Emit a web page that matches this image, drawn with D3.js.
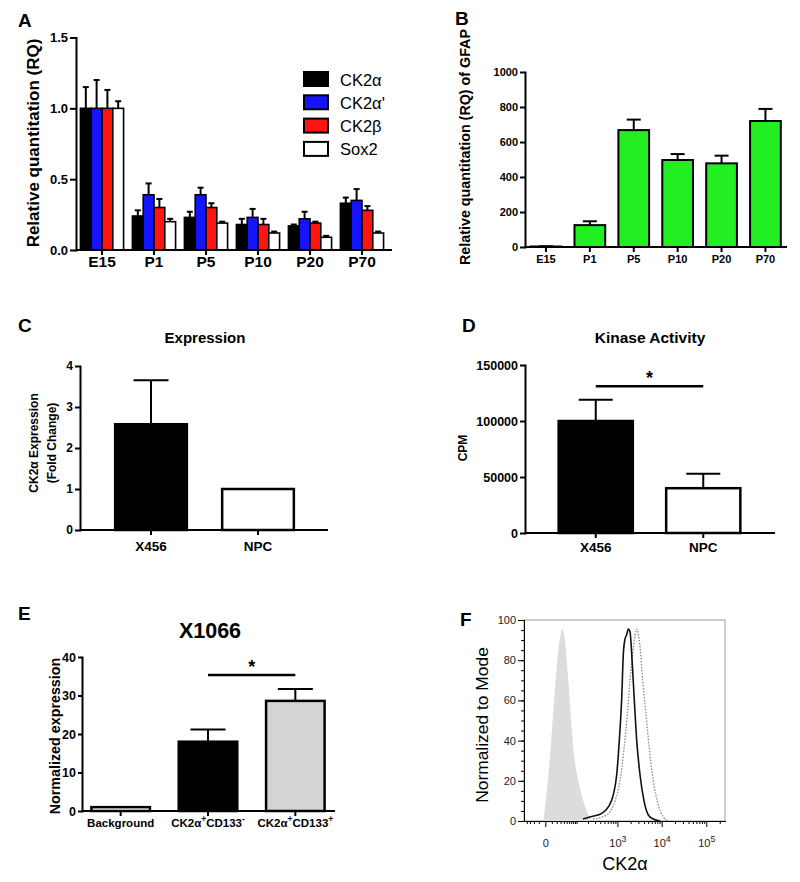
<!DOCTYPE html>
<html><head><meta charset="utf-8">
<script src="https://cdn.jsdelivr.net/npm/d3@7"></script>
<style>
body{margin:0;background:#fff}
svg{display:block}
</style></head><body>
<svg id="fig" width="800" height="882"></svg>
<script>
// ---------- DATA ----------
// Panel A
const stagesA = ["E15","P1","P5","P10","P20","P70"];
const seriesA = ["CK2α","CK2α'","CK2β","Sox2"];
const ck2aVals  = [1.00,0.24,0.23,0.18,0.17,0.33];
const ck2aErr   = [0.15,0.04,0.04,0.04,0.01,0.04];
const ck2apVals = [1.00,0.39,0.39,0.23,0.22,0.35];
const ck2apErr  = [0.20,0.08,0.05,0.06,0.05,0.08];
const ck2bVals  = [1.00,0.30,0.30,0.18,0.19,0.28];
const ck2bErr   = [0.13,0.06,0.03,0.04,0.01,0.03];
const sox2Vals  = [1.00,0.20,0.19,0.12,0.09,0.12];
const sox2Err   = [0.05,0.02,0.01,0.01,0.01,0.01];
const ticksA = [0,0.5,1.0,1.5];
// Panel B
const stagesB = ["E15","P1","P5","P10","P20","P70"];
const gfapVals = [3,125,668,497,478,720];
const gfapErr  = [1,22,60,34,44,69];
const ticksB = [0,200,400,600,800,1000];
// Panel C
const catsC = ["X456","NPC"];
const exprVals = [2.58,1.0];
const exprErr  = [1.07,0];
const ticksC = [0,1,2,3,4];
// Panel D
const catsD = ["X456","NPC"];
const kinVals = [100000,40000];
const kinErr  = [19000,13000];
const ticksD = [0,50000,100000,150000];
const sigD = 131000;
// Panel E
const catsE = ["Background","CK2α+CD133-","CK2α+CD133+"];
const normVals = [1.0,18.0,28.6];
const normErr  = [0,3.2,3.1];
const ticksE = [0,10,20,30,40];
const sigE = 35.3;
// Panel F (flow histograms: intensity, % of mode)
const ctrlX = [-2.7,0.9,5.7,10.9,16.2,23.9,30.2,35,40.5,46.5,56.8,67.5,81,112,152,204,234];
const ctrlY = [0,11,28,48,66,85,93,95.5,93,86,70,53,36,20,10,3,0];
const solidX = [149,248,432,617,805,964,1105,1255,1365,1492,1630,1775,1940,2185,2425,2750,3262,4015,5018,6498,9300];
const solidY = [1,2.2,3.8,7,13,23,40,61,83,90.5,92.7,95.5,94,78,60,40,23,10,3,1,0];
const dotX = [267,566,882,1148,1418,1684,1940,2303,2750,3147,3752,4453,5283,6498,8412,10895,14110];
const dotY = [1,3,10,20,36,53,70,86,95.5,90,70,53,36,20,8,2,0];
const ticksFy = [0,20,40,60,80,100];
const ticksFx = [0,1e3,1e4,1e5];

// ---------- DRAW ----------
const FONT = "'Liberation Sans', Arial, Helvetica, sans-serif";
const svg = d3.select("#fig").attr("font-family", FONT);

function styleAxis(a, fs, weight, sw) {
  a.attr("font-family", FONT);
  a.select(".domain").attr("stroke","#000").attr("stroke-width",sw).attr("stroke-linecap","square");
  a.selectAll(".tick line").attr("stroke","#000").attr("stroke-width",sw);
  a.selectAll(".tick text").attr("font-size",fs).attr("font-weight",weight).attr("fill","#000");
}
function panelLabel(t,x,y){
  svg.append("text").attr("x",x).attr("y",y).attr("font-size",19).attr("font-weight","bold").text(t);
}
function yLabel(g,t,x,y,fs,weight){
  return g.append("text").attr("transform",`translate(${x},${y}) rotate(-90)`).attr("text-anchor","middle")
    .attr("font-size",fs).attr("font-weight",weight||"bold").text(t);
}
function errBar(g,cx,yTop,yErr,cap,sw){
  g.append("line").attr("x1",cx).attr("x2",cx).attr("y1",yTop).attr("y2",yErr).attr("stroke","#000").attr("stroke-width",sw);
  g.append("line").attr("x1",cx-cap/2).attr("x2",cx+cap/2).attr("y1",yErr).attr("y2",yErr).attr("stroke","#000").attr("stroke-width",sw);
}

function barPanel(p){
  const g = svg.append("g");
  const x = d3.scaleBand().domain(p.cats).range(p.xRange).paddingInner(p.pad).paddingOuter(p.pad/2);
  const y = d3.scaleLinear().domain([0,p.yMax]).range(p.yRange);
  p.cats.forEach((c,i)=>{
    const cx = x(c)+x.bandwidth()/2;
    if(p.errs[i]>0) errBar(g,cx,y(p.vals[i]),y(p.vals[i]+p.errs[i]),p.cap,2);
  });
  g.selectAll("rect.bar").data(p.vals).join("rect").attr("class","bar")
    .attr("x",(d,i)=>x(p.cats[i])).attr("y",d=>y(d))
    .attr("width",x.bandwidth()).attr("height",d=>y(0)-y(d))
    .attr("fill",(d,i)=>p.fills[i]).attr("stroke","#000").attr("stroke-width",p.barSW);
  const ay = g.append("g").attr("transform",`translate(${p.axisX},0)`)
    .call(d3.axisLeft(y).tickValues(p.yTicks).tickFormat(p.yFmt||d3.format("d")).tickSize(p.yTick).tickSizeOuter(0).tickPadding(p.yPad));
  styleAxis(ay,p.yFs,"bold",2);
  const ax = g.append("g").attr("transform",`translate(0,${y(0)})`)
    .call(d3.axisBottom(x).tickSize(5).tickSizeOuter(0).tickPadding(p.xPad));
  styleAxis(ax,p.xFs,"bold",2);
  ax.select(".domain").remove();
  g.append("line").attr("x1",p.axisX).attr("x2",p.xEnd).attr("y1",y(0)).attr("y2",y(0))
    .attr("stroke","#000").attr("stroke-width",2);
  return {g,x,y,ax};
}

// ---- Panel A ----
(function(){
  const g = svg.append("g");
  const x = d3.scaleBand().domain(stagesA).range([76,388]).paddingInner(0.17).paddingOuter(0.085);
  const xs = d3.scaleBand().domain(seriesA).range([0,x.bandwidth()]);
  const y = d3.scaleLinear().domain([0,1.5]).range([250,37.5]);
  const colors = ["#000000","#1414ff","#ff1414","#ffffff"];
  const vals = [ck2aVals,ck2apVals,ck2bVals,sox2Vals];
  const errs = [ck2aErr,ck2apErr,ck2bErr,sox2Err];
  seriesA.forEach((s,si)=>{
    stagesA.forEach((st,i)=>{
      const cx = x(st)+xs(s)+xs.bandwidth()/2;
      errBar(g,cx,y(vals[si][i]),y(vals[si][i]+errs[si][i]),6,2);
    });
  });
  seriesA.forEach((s,si)=>{
    g.selectAll(null).data(vals[si]).join("rect")
      .attr("x",(d,i)=>x(stagesA[i])+xs(s)).attr("y",d=>y(d))
      .attr("width",xs.bandwidth()).attr("height",d=>y(0)-y(d))
      .attr("fill",colors[si]).attr("stroke","#000").attr("stroke-width",1.6);
  });
  const ay = g.append("g").attr("transform","translate(76,0)")
    .call(d3.axisLeft(y).tickValues(ticksA).tickFormat(d3.format(".1f")).tickSize(6).tickSizeOuter(0).tickPadding(2));
  styleAxis(ay,13,"bold",2);
  const ax = g.append("g").attr("transform","translate(0,250)")
    .call(d3.axisBottom(x).tickSize(5).tickSizeOuter(0).tickPadding(1));
  styleAxis(ax,15.5,"bold",2);
  ax.select(".domain").remove();
  g.append("line").attr("x1",76).attr("x2",392).attr("y1",250).attr("y2",250).attr("stroke","#000").attr("stroke-width",2);
  yLabel(g,"Relative quantitation (RQ)",39,143,17);
  // legend
  const lg = g.append("g");
  seriesA.forEach((s,i)=>{
    const ly = 72 + i*23.3;
    lg.append("rect").attr("x",304).attr("y",ly).attr("width",24).attr("height",14)
      .attr("fill",colors[i]).attr("stroke","#000").attr("stroke-width",2);
    lg.append("text").attr("x",340).attr("y",ly+13.5).attr("font-size",16.5).text(s);
  });
})();
panelLabel("A",18,27);

// ---- Panel B ----
(function(){
  const r = barPanel({cats:stagesB, vals:gfapVals, errs:gfapErr, fills:gfapVals.map(()=>"#22ee22"),
    xRange:[524,787.4], pad:0.3, yMax:1000, yRange:[247,72], yTicks:ticksB,
    axisX:525, xEnd:787, cap:14, barSW:2, yTick:5, yPad:2, yFs:11, xPad:3, xFs:11});
  yLabel(r.g,"Relative quantitation (RQ) of GFAP",470,147,14.3);
})();
panelLabel("B",455,25);

// ---- Panel C ----
(function(){
  const r = barPanel({cats:catsC, vals:exprVals, errs:exprErr, fills:["#000","#fff"],
    xRange:[97.5,311.5], pad:0.33, yMax:4, yRange:[530,366], yTicks:ticksC,
    axisX:80, xEnd:328, cap:35, barSW:2.5, yTick:5, yPad:2, yFs:12, xPad:6, xFs:13.5});
  yLabel(r.g,"CK2α Expression",38,443,12);
  yLabel(r.g,"(Fold Change)",56,443,12);
  r.g.append("text").attr("x",205).attr("y",343).attr("text-anchor","middle")
    .attr("font-size",15).attr("font-weight","bold").text("Expression");
})();
panelLabel("C",18,332);

// ---- Panel D ----
(function(){
  const r = barPanel({cats:catsD, vals:kinVals, errs:kinErr, fills:["#000","#fff"],
    xRange:[542,757], pad:0.31, yMax:150000, yRange:[533,365], yTicks:ticksD,
    axisX:525, xEnd:775, cap:34, barSW:2.5, yTick:5, yPad:2, yFs:12.5, xPad:4, xFs:13.5});
  yLabel(r.g,"CPM",467,448,12);
  r.g.append("text").attr("x",650).attr("y",343).attr("text-anchor","middle")
    .attr("font-size",15.5).attr("font-weight","bold").text("Kinase Activity");
  const c0 = r.x(catsD[0])+r.x.bandwidth()/2, c1 = r.x(catsD[1])+r.x.bandwidth()/2;
  r.g.append("line").attr("x1",c0).attr("x2",c1).attr("y1",r.y(sigD)).attr("y2",r.y(sigD))
    .attr("stroke","#000").attr("stroke-width",2.5);
  r.g.append("text").attr("x",(c0+c1)/2).attr("y",r.y(sigD)-2).attr("text-anchor","middle")
    .attr("font-size",18).attr("font-weight","bold").text("*");
})();
panelLabel("D",462,332);

// ---- Panel E ----
(function(){
  const r = barPanel({cats:catsE, vals:normVals, errs:normErr, fills:["#fff","#000","#d4d4d4"],
    xRange:[77,339], pad:0.33, yMax:40, yRange:[811,657], yTicks:ticksE,
    axisX:82, xEnd:335, cap:35, barSW:2.5, yTick:4, yPad:2, yFs:12.5, xPad:3, xFs:11.5});
  // superscripted x labels
  r.ax.selectAll(".tick text").each(function(d){
    const t = d3.select(this);
    if(d==="Background") return;
    t.text(null);
    t.append("tspan").text("CK2α");
    t.append("tspan").attr("dy",-5).attr("font-size",8.5).text("+");
    t.append("tspan").attr("dy",5).text("CD133");
    t.append("tspan").attr("dy",-5).attr("font-size",8.5).text(d.endsWith("+")?"+":"-");
  });
  yLabel(r.g,"Normalized expression",60,736,14.3);
  r.g.append("text").attr("x",210).attr("y",638).attr("text-anchor","middle")
    .attr("font-size",21.5).attr("font-weight","bold").text("X1066");
  const c0 = r.x(catsE[1])+r.x.bandwidth()/2, c1 = r.x(catsE[2])+r.x.bandwidth()/2;
  r.g.append("line").attr("x1",c0).attr("x2",c1).attr("y1",r.y(sigE)).attr("y2",r.y(sigE))
    .attr("stroke","#000").attr("stroke-width",2.5);
  r.g.append("text").attr("x",(c0+c1)/2).attr("y",r.y(sigE)-2).attr("text-anchor","middle")
    .attr("font-size",18).attr("font-weight","bold").text("*");
})();
panelLabel("E",18,620);

// ---- Panel F ----
(function(){
  const g = svg.append("g");
  const x = d3.scaleSymlog().constant(25).domain([-50,262144]).range([524,725]);
  const y = d3.scaleLinear().domain([0,100]).range([821,620]);
  g.append("rect").attr("x",524).attr("y",620).attr("width",201).attr("height",201)
    .attr("fill","none").attr("stroke","#9a9a9a").attr("stroke-width",1);
  const ctrl = ctrlX.map((v,i)=>[v,ctrlY[i]]);
  const solid = solidX.map((v,i)=>[v,solidY[i]]);
  const dots = dotX.map((v,i)=>[v,dotY[i]]);
  g.append("path").datum(ctrl).attr("fill","#dcdcdc")
    .attr("d",d3.area().x(d=>x(d[0])).y0(y(0)).y1(d=>y(d[1])).curve(d3.curveMonotoneX));
  g.append("path").datum(dots).attr("fill","none").attr("stroke","#8a8a8a").attr("stroke-width",1.3)
    .attr("stroke-dasharray","1.5,1.5")
    .attr("d",d3.line().x(d=>x(d[0])).y(d=>y(d[1])).curve(d3.curveMonotoneX));
  g.append("path").datum(solid).attr("fill","none").attr("stroke","#111").attr("stroke-width",1.6)
    .attr("d",d3.line().x(d=>x(d[0])).y(d=>y(d[1])).curve(d3.curveMonotoneX));
  // y axis
  const yMinor = d3.range(0,101,5);
  const aym = g.append("g").attr("transform","translate(524,0)")
    .call(d3.axisLeft(y).tickValues(yMinor).tickSize(3).tickSizeOuter(0).tickFormat(""));
  styleAxis(aym,10,"normal",1);
  const ay = g.append("g").attr("transform","translate(524,0)")
    .call(d3.axisLeft(y).tickValues(ticksFy).tickSize(6).tickSizeOuter(0).tickPadding(2));
  styleAxis(ay,11,"normal",1);
  ay.selectAll(".tick text").attr("fill","#222");
  // x axis
  const xMinor = [];
  [-40,-30,-20,-10].forEach(v=>xMinor.push(v));
  [10,100,1000,10000,100000].forEach(dec=>{ for(let k=1;k<=9;k++){ const v=k*dec; if(v<=262144 && !ticksFx.includes(v)) xMinor.push(v);} });
  const axm = g.append("g").attr("transform","translate(0,821)")
    .call(d3.axisBottom(x).tickValues(xMinor).tickSize(3).tickSizeOuter(0).tickFormat(""));
  styleAxis(axm,10,"normal",1);
  const ax = g.append("g").attr("transform","translate(0,821)")
    .call(d3.axisBottom(x).tickValues(ticksFx).tickSize(6).tickSizeOuter(0).tickPadding(12));
  styleAxis(ax,11,"normal",1);
  ax.selectAll(".tick text").attr("fill","#222").each(function(d){
    const t = d3.select(this);
    if(d===0){ t.text("0"); return; }
    t.text(null);
    t.append("tspan").text("10");
    t.append("tspan").attr("dy","-0.55em").attr("font-size","0.8em").text(Math.round(Math.log10(d)));
  });
  g.append("text").attr("x",625).attr("y",870).attr("text-anchor","middle").attr("font-size",18).text("CK2α");
  yLabel(g,"Normalized to Mode",488,725,17.4,"normal");
})();
panelLabel("F",460,626);
</script>
</body></html>
